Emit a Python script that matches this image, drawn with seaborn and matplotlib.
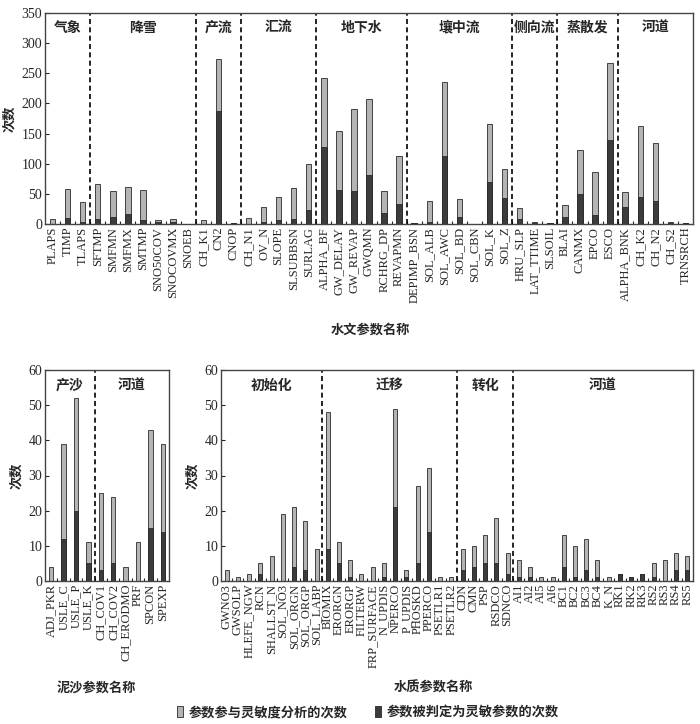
import numpy as np
import pandas as pd
import matplotlib
matplotlib.use("Agg")
import matplotlib.pyplot as plt
from matplotlib.patches import Patch
import seaborn as sns

sns.set_style("white")
plt.rcParams['font.family'] = ['Liberation Serif', 'Noto Sans CJK SC', 'DejaVu Sans']
CJK = ['Noto Sans CJK SC', 'DejaVu Sans']

# hydrology parameters
hydro_names = ["PLAPS", "TIMP", "TLAPS",
               "SFTMP", "SMFMN", "SMFMX", "SMTMP", "SNO50COV", "SNOCOVMX", "SNOEB",
               "CH_K1", "CN2", "CNOP",
               "CH_N1", "OV_N", "SLOPE", "SLSUBBSN", "SURLAG",
               "ALPHA_BF", "GW_DELAY", "GW_REVAP", "GWQMN", "RCHRG_DP", "REVAPMN",
               "DEPIMP_BSN", "SOL_ALB", "SOL_AWC", "SOL_BD", "SOL_CBN", "SOL_K", "SOL_Z",
               "HRU_SLP", "LAT_TTIME", "SLSOIL",
               "BLAI", "CANMX", "EPCO", "ESCO",
               "ALPHA_BNK", "CH_K2", "CH_N2", "CH_S2", "TRNSRCH"]
hydro_total = [8, 58, 37,
               67, 55, 61, 57, 6, 8, 0,
               7, 274, 1,
               10, 28, 45, 59, 100,
               243, 155, 190, 207, 55, 112,
               2, 38, 236, 42, 0, 166, 91,
               26, 3, 1,
               32, 122, 86, 267,
               53, 162, 134, 3, 2]
hydro_sens = [0, 10, 3,
              9, 12, 16, 7, 4, 4, 0,
              0, 188, 1,
              0, 3, 7, 9, 24,
              127, 57, 55, 82, 18, 33,
              1, 3, 113, 12, 0, 70, 43,
              9, 1, 1,
              12, 49, 15, 140,
              28, 45, 38, 1, 1]
hydro_groups = ["气象", "降雪", "产流", "汇流", "地下水", "壤中流", "侧向流", "蒸散发", "河道"]
hydro_sizes = [3, 7, 3, 5, 6, 7, 3, 4, 5]

# sediment parameters
sed_names = ["ADJ_PKR", "USLE_C", "USLE_P", "USLE_K",
             "CH_COV1", "CH_COV2", "CH_ERODMO", "PRF", "SPCON", "SPEXP"]
sed_total = [4, 39, 52, 11, 25, 24, 4, 11, 43, 39]
sed_sens = [0, 12, 20, 5, 3, 5, 0, 0, 15, 14]
sed_groups = ["产沙", "河道"]
sed_sizes = [4, 6]

# water quality parameters
wq_names = ["GWNO3", "GWSOLP", "HLEFE_NGW", "RCN", "SHALLST_N", "SOL_NO3", "SOL_ORGN", "SOL_ORGP", "SOL_LABP",
            "BIOMIX", "ERORGN", "ERORGP", "FILTERW", "FRP_SURFACE", "N_UPDIS", "NPERCO", "P_UPDIS",
            "PHOSKD", "PPERCO", "PSETLR1", "PSETLR2",
            "CDN", "CMN", "PSP", "RSDCO", "SDNCO",
            "AI1", "AI2", "AI5", "AI6", "BC1", "BC2", "BC3", "BC4", "K_N",
            "RK1", "RK2", "RK3", "RS2", "RS3", "RS4", "RS5"]
wq_total = [3, 1, 2, 5, 7, 19, 21, 17, 9,
            48, 11, 6, 2, 4, 5, 49, 3, 27, 32, 1, 1,
            9, 10, 13, 18, 8,
            6, 4, 1, 1, 13, 10, 12, 6, 1, 2, 1, 2, 5, 6, 8, 7]
wq_sens = [0, 0, 0, 2, 0, 0, 4, 3, 0,
           9, 5, 1, 0, 0, 1, 21, 1, 5, 14, 0, 0,
           3, 4, 5, 5, 2,
           1, 1, 0, 0, 4, 1, 3, 1, 0, 2, 1, 2, 1, 0, 3, 3]
wq_groups = ["初始化", "迁移", "转化", "河道"]
wq_sizes = [9, 12, 5, 16]

GRAY = "#b4b4b4"
DARK = "#3c3c3c"
EDGE = "#2a2a2a"

W, H = 700, 724
fig = plt.figure(figsize=(7, 7.24), dpi=100)


def px_axes(x0, y0, x1, y1):
    return fig.add_axes([x0 / W, 1 - y1 / H, (x1 - x0) / W, (y1 - y0) / H])


def draw(ax, names, total, sens, groups, sizes, ymax, ystep, label_y):
    df = pd.DataFrame({"name": names, "total": total, "sens": sens})
    sns.barplot(data=df, x="name", y="total", order=names, color=GRAY, saturation=1,
                width=0.36, edgecolor=EDGE, linewidth=0.6, ax=ax)
    sns.barplot(data=df, x="name", y="sens", order=names, color=DARK, saturation=1,
                width=0.36, edgecolor=EDGE, linewidth=0.6, ax=ax)
    n = len(names)
    ax.set_xlim(-0.5, n - 0.5)
    ax.set_ylim(0, ymax)
    ax.set_yticks(np.arange(0, ymax + 1, ystep))
    ax.set_xticks(np.arange(n))
    ax.set_xticklabels(names, rotation=90, fontsize=9)
    ax.set_xticks(np.arange(n - 1) + 0.5, minor=True)
    ax.tick_params(axis='x', which='major', length=0, pad=2)
    ax.tick_params(axis='x', which='minor', direction='in', length=2.5, width=0.8, bottom=True)
    ax.tick_params(axis='y', direction='in', length=3, width=0.8, left=True, labelsize=10, pad=2)
    ax.set_xlabel("")
    ax.set_ylabel("次数", family=CJK, fontsize=9.5, fontweight='bold', labelpad=4)
    for s in ax.spines.values():
        s.set_color("#444444")
        s.set_linewidth(1.0)
    start = 0
    for g, sz in zip(groups, sizes):
        if start > 0:
            ax.axvline(start - 0.5, color="black", ls=(0, (3, 2)), lw=1.2)
        ax.text(start + (sz - 1) / 2, label_y, g, ha='center', va='center',
                family=CJK, fontsize=10, fontweight='bold')
        start += sz


ax1 = px_axes(45, 13, 693, 224)
draw(ax1, hydro_names, hydro_total, hydro_sens, hydro_groups, hydro_sizes, 350, 50, 325)
fig.text(370 / W, 1 - 330 / H, "水文参数名称", ha='center', va='center',
         family=CJK, fontsize=9.5, fontweight='bold')

ax2 = px_axes(45, 370, 169, 581)
draw(ax2, sed_names, sed_total, sed_sens, sed_groups, sed_sizes, 60, 10, 55.5)
fig.text(96 / W, 1 - 688 / H, "泥沙参数名称", ha='center', va='center',
         family=CJK, fontsize=9.5, fontweight='bold')

ax3 = px_axes(221, 370, 693, 581)
draw(ax3, wq_names, wq_total, wq_sens, wq_groups, wq_sizes, 60, 10, 55.5)
fig.text(433 / W, 1 - 688 / H, "水质参数名称", ha='center', va='center',
         family=CJK, fontsize=9.5, fontweight='bold')

handles = [Patch(facecolor=GRAY, edgecolor=EDGE, linewidth=0.6),
           Patch(facecolor=DARK, edgecolor=EDGE, linewidth=0.6)]
labels = ["参数参与灵敏度分析的次数", "参数被判定为灵敏参数的次数"]
fig.legend(handles, labels, loc='center', bbox_to_anchor=(368 / W, 1 - 712 / H), ncol=2,
           frameon=False, prop={'family': CJK, 'size': 9.5, 'weight': 'bold'},
           handlelength=0.45, handleheight=1.0, handletextpad=0.5, columnspacing=2.0)

fig.savefig("out.png", dpi=100)
